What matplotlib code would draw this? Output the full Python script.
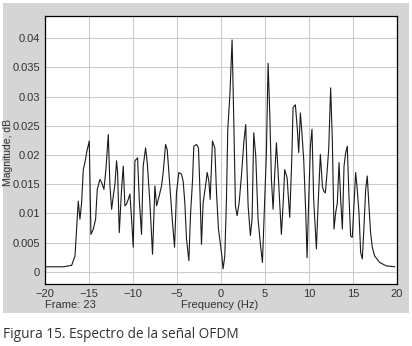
import matplotlib
matplotlib.use('Agg')
import matplotlib.pyplot as plt
from matplotlib.patches import Rectangle

# spectrum (Hz, magnitude)
freq = [-20, -17.92, -16.97, -16.59, -16.41, -16.22, -16.03, -15.84, -15.65, -15.46,
        -15.27, -14.97, -14.78, -14.51, -14.25, -14.06, -13.76, -13.57, -13.30, -13.08,
        -12.81, -12.62, -12.43, -12.24, -12.05, -11.87, -11.75, -11.56, -11.30, -11.11,
        -10.92, -10.73, -10.54, -10.35, -10.16, -9.97, -9.78, -9.48, -9.29, -9.03,
        -8.84, -8.57, -8.38, -8.08, -7.78, -7.51, -7.32, -7.02, -6.76, -6.57,
        -6.30, -6.11, -5.81, -5.51, -5.28, -5.06, -4.79, -4.49, -4.30, -4.11,
        -3.92, -3.65, -3.47, -3.24, -3.09, -2.78, -2.56, -2.41, -2.22, -2.03,
        -1.76, -1.57, -1.38, -1.23, -0.97, -0.70, -0.51, -0.29, -0.14, 0.05,
        0.24, 0.43, 0.62, 0.77, 1.00, 1.26, 1.45, 1.64, 1.83, 2.06,
        2.32, 2.59, 2.81, 3.08, 3.34, 3.53, 3.72, 3.95, 4.21, 4.48,
        4.71, 4.97, 5.16, 5.35, 5.54, 5.73, 5.92, 6.11, 6.30, 6.49,
        6.75, 6.86, 7.05, 7.24, 7.51, 7.81, 8.04, 8.19, 8.45, 8.68,
        8.83, 9.02, 9.17, 9.40, 9.63, 9.78, 9.97, 10.16, 10.34, 10.53,
        10.84, 11.03, 11.29, 11.52, 11.67, 11.86, 12.05, 12.24, 12.46, 12.65,
        12.84, 13.03, 13.22, 13.41, 13.60, 13.79, 13.98, 14.17, 14.35, 14.54,
        14.73, 14.92, 15.11, 15.30, 15.45, 15.68, 15.87, 16.06, 16.25, 16.44,
        16.62, 16.81, 17.00, 17.19, 17.46, 18.02, 18.78, 19.73]
mag = [0.00085, 0.00085, 0.0011, 0.0027, 0.0073, 0.0121, 0.0090, 0.0118, 0.0175, 0.0187,
       0.0204, 0.0224, 0.0064, 0.0073, 0.0090, 0.0141, 0.0158, 0.0153, 0.0141, 0.0175,
       0.0235, 0.0147, 0.0107, 0.0130, 0.0150, 0.0190, 0.0170, 0.0067, 0.0141, 0.0181,
       0.0113, 0.0116, 0.0124, 0.0133, 0.0090, 0.0042, 0.0190, 0.0195, 0.0124, 0.0064,
       0.0181, 0.0212, 0.0187, 0.0118, 0.0030, 0.0147, 0.0113, 0.0130, 0.0147, 0.0170,
       0.0218, 0.0209, 0.0147, 0.0084, 0.0042, 0.0135, 0.0170, 0.0167, 0.0155, 0.0118,
       0.0056, 0.0019, 0.0096, 0.0155, 0.0215, 0.0218, 0.0212, 0.0147, 0.0047, 0.0118,
       0.0147, 0.0170, 0.0155, 0.0124, 0.0224, 0.0212, 0.0135, 0.0073, 0.0056, 0.0033,
       0.0005, 0.0027, 0.0124, 0.0244, 0.0300, 0.0397, 0.0261, 0.0113, 0.0096, 0.0118,
       0.0164, 0.0221, 0.0252, 0.0113, 0.0062, 0.0090, 0.0238, 0.0198, 0.0090, 0.0047,
       0.0016, 0.0124, 0.0204, 0.0357, 0.0272, 0.0158, 0.0107, 0.0170, 0.0221, 0.0170,
       0.0096, 0.0064, 0.0113, 0.0175, 0.0161, 0.0093, 0.0192, 0.0281, 0.0286, 0.0243,
       0.0204, 0.0272, 0.0243, 0.0192, 0.0101, 0.0024, 0.0124, 0.0215, 0.0244, 0.0124,
       0.0039, 0.0113, 0.0201, 0.0147, 0.0138, 0.0135, 0.0170, 0.0210, 0.0315, 0.0226,
       0.0073, 0.0101, 0.0118, 0.0187, 0.0124, 0.0073, 0.0181, 0.0204, 0.0215, 0.0130,
       0.0061, 0.0059, 0.0113, 0.0170, 0.0147, 0.0101, 0.0033, 0.0022, 0.0078, 0.0141,
       0.0164, 0.0113, 0.0067, 0.0042, 0.0027, 0.0016, 0.0010, 0.00085]

xticks = [-20, -15, -10, -5, 0, 5, 10, 15, 20]
yticks = [0, 0.005, 0.01, 0.015, 0.02, 0.025, 0.03, 0.035, 0.04]
ytick_labels = ['0', '0.005', '0.01', '0.015', '0.02', '0.025', '0.03', '0.035', '0.04']

plt.rcParams['font.family'] = 'Liberation Sans'

W, H = 412, 346
fig = plt.figure(figsize=(W / 100, H / 100), dpi=100)
fig.patch.set_facecolor('white')

# gray window panel behind the plot
fig.patches.append(Rectangle((3 / W, 1 - 313 / H), 406 / W, 310 / H,
                             transform=fig.transFigure, facecolor='#d5d5d5',
                             edgecolor='none', zorder=-1))

ax = fig.add_axes([45 / W, 1 - 284 / H, 352 / W, 268 / H])
ax.set_zorder(2)
ax.set_facecolor('white')
ax.plot(freq, mag, color='#1a1a1a', lw=0.8)
ax.set_xlim(-20, 20)
ax.set_ylim(-0.0021, 0.0438)
ax.set_xticks(xticks)
ax.set_yticks(yticks)
ax.set_yticklabels(ytick_labels)
ax.grid(True, color='#cccccc', lw=0.8)
ax.set_axisbelow(True)
ax.tick_params(length=0, labelsize=8, labelcolor='#333333', pad=3.5)
for s in ax.spines.values():
    s.set_color('black')
    s.set_linewidth(0.9)

fig.text(8 / W, 1 - 152 / H, 'Magnitude, dB', rotation=90, ha='center', va='center',
         fontsize=7.5, color='#333333', zorder=3)
fig.text(45 / W, 1 - 305 / H, 'Frame: 23', ha='left', va='center',
         fontsize=8, color='#333333', zorder=3)
fig.text(220 / W, 1 - 305 / H, 'Frequency (Hz)', ha='center', va='center',
         fontsize=8, color='#333333', zorder=3)
fig.text(3 / W, 1 - 334 / H, 'Figura 15. Espectro de la señal OFDM', ha='left', va='center',
         fontsize=9.8, color='#333333', family='Open Sans', zorder=3)

fig.savefig('out.png', dpi=100)
